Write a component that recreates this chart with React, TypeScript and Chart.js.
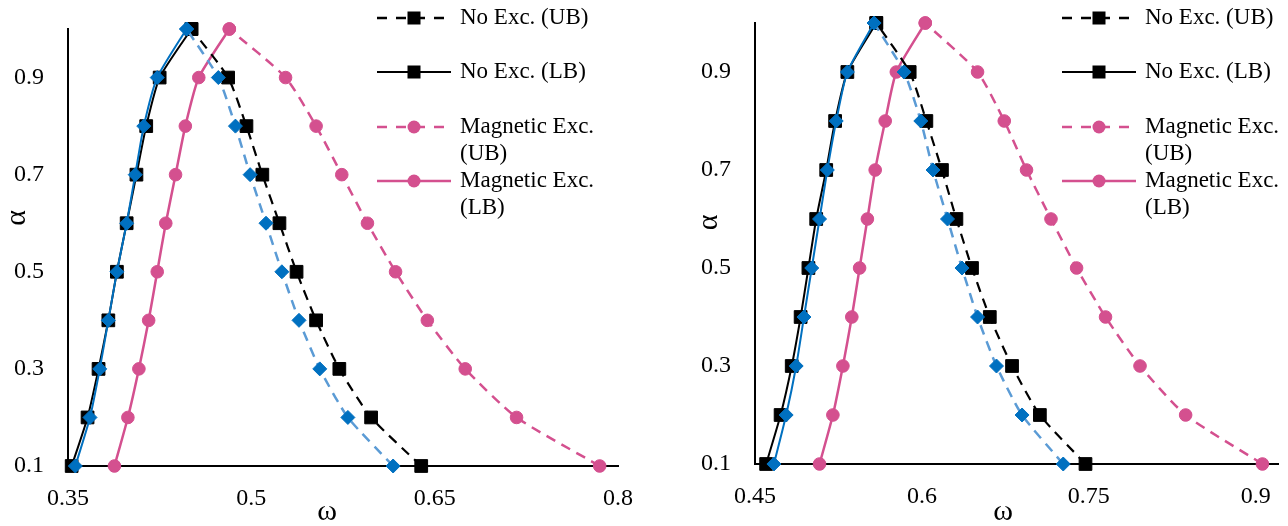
import React, { useEffect, useRef } from 'react';
import { Chart, registerables } from 'chart.js';

Chart.register(...registerables);

// ---------- data ----------
const alphaValues = [0.1, 0.2, 0.3, 0.4, 0.5, 0.6, 0.7, 0.8, 0.9, 1.0];
const yTickValues = [0.1, 0.3, 0.5, 0.7, 0.9];

const leftXTicks = [0.35, 0.5, 0.65, 0.8];
const rightXTicks = [0.45, 0.6, 0.75, 0.9];

// Left panel (omega for each alpha)
const leftNoExcUB = [0.639, 0.598, 0.572, 0.553, 0.537, 0.523, 0.509, 0.496, 0.481, 0.451];
const leftNoExcLB = [0.353, 0.366, 0.375, 0.383, 0.390, 0.398, 0.406, 0.414, 0.425, 0.451];
const leftMagUB = [0.785, 0.717, 0.675, 0.644, 0.618, 0.595, 0.574, 0.553, 0.528, 0.482];
const leftMagLB = [0.388, 0.399, 0.408, 0.416, 0.423, 0.430, 0.438, 0.446, 0.457, 0.482];
const leftBlueUB = [0.616, 0.579, 0.556, 0.539, 0.525, 0.512, 0.499, 0.487, 0.473, 0.447];
const leftBlueLB = [0.356, 0.368, 0.376, 0.383, 0.390, 0.398, 0.405, 0.412, 0.423, 0.447];

// Right panel
const rightNoExcUB = [0.747, 0.706, 0.681, 0.661, 0.645, 0.631, 0.618, 0.604, 0.589, 0.559];
const rightNoExcLB = [0.460, 0.473, 0.483, 0.491, 0.498, 0.505, 0.514, 0.522, 0.533, 0.559];
const rightMagUB = [0.906, 0.837, 0.796, 0.765, 0.739, 0.716, 0.694, 0.674, 0.650, 0.603];
const rightMagLB = [0.508, 0.520, 0.529, 0.537, 0.544, 0.551, 0.558, 0.567, 0.577, 0.603];
const rightBlueUB = [0.727, 0.690, 0.667, 0.650, 0.636, 0.623, 0.610, 0.599, 0.584, 0.557];
const rightBlueLB = [0.467, 0.478, 0.487, 0.494, 0.501, 0.508, 0.515, 0.523, 0.533, 0.557];

const legendLabels = [
  ['No Exc. (UB)'],
  ['No Exc. (LB)'],
  ['Magnetic Exc.', '(UB)'],
  ['Magnetic Exc.', '(LB)'],
];

// ---------- styles ----------
const BLACK = '#000000';
const PINK = '#D4508F';
const BLUE = '#0070C0';
const LIGHTBLUE = '#5B9BD5';
const SERIF = '"Liberation Serif", "Times New Roman", serif';
const H = 526;

type PanelCfg = {
  canvasLeft: number;
  width: number;
  plotLeft: number;
  plotRight: number;
  plotTop: number;
  plotBottom: number;
  xMin: number;
  xMax: number;
  xTicks: number[];
  noUB: number[];
  noLB: number[];
  magUB: number[];
  magLB: number[];
  blueUB: number[];
  blueLB: number[];
  legendMarkerX: number;
  xTitle: [number, number];
  yTitle: [number, number];
};

const panels: PanelCfg[] = [
  {
    canvasLeft: 0, width: 640, plotLeft: 68, plotRight: 618, plotTop: 29, plotBottom: 466,
    xMin: 0.35, xMax: 0.8, xTicks: leftXTicks,
    noUB: leftNoExcUB, noLB: leftNoExcLB, magUB: leftMagUB, magLB: leftMagLB,
    blueUB: leftBlueUB, blueLB: leftBlueLB,
    legendMarkerX: 414, xTitle: [327, 520], yTitle: [25, 218],
  },
  {
    canvasLeft: 640, width: 648, plotLeft: 115, plotRight: 645.5, plotTop: 23, plotBottom: 464,
    xMin: 0.45, xMax: 0.92, xTicks: rightXTicks,
    noUB: rightNoExcUB, noLB: rightNoExcLB, magUB: rightMagUB, magLB: rightMagLB,
    blueUB: rightBlueUB, blueLB: rightBlueLB,
    legendMarkerX: 459, xTitle: [363, 520], yTitle: [77, 222.5],
  },
];

const legendStyles = [
  { color: BLACK, width: 2.5, dash: true, marker: 'square' },
  { color: BLACK, width: 2, dash: false, marker: 'square' },
  { color: PINK, width: 2.5, dash: true, marker: 'circle' },
  { color: PINK, width: 2.5, dash: false, marker: 'circle' },
];
const legendRowY = [18, 72, 127, 181];

function toPoints(omegas: number[]) {
  return omegas.map((w, i) => ({ x: w, y: alphaValues[i] }));
}

function series(omegas: number[], line: string, marker: string, width: number, dashed: boolean, style: string, radius: number) {
  return {
    data: toPoints(omegas),
    showLine: true,
    borderColor: line,
    borderWidth: width,
    borderDash: dashed ? [10, 7] : [],
    tension: 0.2,
    pointStyle: style,
    pointRadius: radius,
    pointBackgroundColor: marker,
    pointBorderColor: marker,
    pointBorderWidth: 1,
    clip: false as any,
  };
}

function Panel({ cfg }: { cfg: PanelCfg }) {
  const ref = useRef<HTMLCanvasElement | null>(null);
  useEffect(() => {
    const canvas = ref.current;
    if (!canvas) return;

    const overlay = {
      id: 'overlay',
      afterDraw(chart: any) {
        const ctx: CanvasRenderingContext2D = chart.ctx;
        ctx.save();
        // legend
        legendStyles.forEach((s, i) => {
          const y = legendRowY[i];
          const mx = cfg.legendMarkerX;
          ctx.strokeStyle = s.color;
          ctx.lineWidth = s.width;
          ctx.setLineDash(s.dash ? [10, 9] : []);
          ctx.beginPath();
          ctx.moveTo(mx - 37, y);
          ctx.lineTo(mx + 37, y);
          ctx.stroke();
          ctx.setLineDash([]);
          ctx.fillStyle = s.color;
          if (s.marker === 'square') {
            ctx.fillRect(mx - 6.5, y - 6.5, 13, 13);
          } else {
            ctx.beginPath();
            ctx.arc(mx, y, 6.5, 0, Math.PI * 2);
            ctx.fill();
          }
          ctx.fillStyle = '#000';
          ctx.font = `23px ${SERIF}`;
          ctx.textAlign = 'left';
          ctx.textBaseline = 'middle';
          legendLabels[i].forEach((t, j) => ctx.fillText(t, mx + 46, y + j * 27));
        });
        // axis titles
        ctx.fillStyle = '#000';
        ctx.font = `30px ${SERIF}`;
        ctx.textAlign = 'center';
        ctx.textBaseline = 'alphabetic';
        ctx.fillText('ω', cfg.xTitle[0], cfg.xTitle[1]);
        ctx.translate(cfg.yTitle[0], cfg.yTitle[1]);
        ctx.rotate(-Math.PI / 2);
        ctx.fillText('α', 0, 0);
        ctx.restore();
      },
    };

    const tickFont = { family: SERIF, size: 24 };

    const chart = new Chart(canvas, {
      type: 'scatter',
      data: {
        datasets: [
          series(cfg.blueLB, BLUE, BLUE, 2, false, 'rectRot', 7),
          series(cfg.blueUB, LIGHTBLUE, BLUE, 2.5, true, 'rectRot', 7),
          series(cfg.noLB, BLACK, BLACK, 2, false, 'rect', 9),
          series(cfg.noUB, BLACK, BLACK, 2.2, true, 'rect', 9),
          series(cfg.magLB, PINK, PINK, 2.5, false, 'circle', 6.3),
          series(cfg.magUB, PINK, PINK, 2.5, true, 'circle', 6.3),
        ] as any,
      },
      options: {
        responsive: false,
        animation: false,
        events: [],
        layout: { padding: { left: 0, top: cfg.plotTop, right: cfg.width - cfg.plotRight, bottom: 0 } },
        plugins: { legend: { display: false }, tooltip: { enabled: false }, title: { display: false } },
        scales: {
          x: {
            type: 'linear',
            position: 'bottom',
            min: cfg.xMin,
            max: cfg.xMax,
            grid: { display: false, drawTicks: false },
            border: { display: true, color: '#000', width: 2 },
            ticks: {
              font: tickFont,
              color: '#000',
              padding: 18,
              autoSkip: false,
              maxRotation: 0,
              callback: (v: any) => String(Number(Number(v).toFixed(2))),
            },
            afterBuildTicks: (s: any) => {
              s.ticks = cfg.xTicks.map((value) => ({ value }));
            },
            afterFit: (s: any) => {
              s.height = H - cfg.plotBottom;
              s.paddingLeft = 0;
              s.paddingRight = 0;
            },
          },
          y: {
            type: 'linear',
            position: 'left',
            min: 0.1,
            max: 1.0,
            grid: { display: false, drawTicks: false },
            border: { display: true, color: '#000', width: 2 },
            ticks: {
              font: tickFont,
              color: '#000',
              padding: 24,
              autoSkip: false,
              callback: (v: any) => Number(v).toFixed(1),
            },
            afterBuildTicks: (s: any) => {
              s.ticks = yTickValues.map((value) => ({ value }));
            },
            afterFit: (s: any) => {
              s.width = cfg.plotLeft;
              s.paddingTop = 0;
              s.paddingBottom = 0;
            },
          },
        },
      } as any,
      plugins: [overlay],
    });
    return () => chart.destroy();
  }, [cfg]);

  return (
    <canvas
      ref={ref}
      width={cfg.width}
      height={H}
      style={{ position: 'absolute', left: cfg.canvasLeft, top: 0, width: cfg.width, height: H }}
    />
  );
}

export default function App() {
  return (
    <div style={{ position: 'fixed', left: 0, top: 0, width: 1288, height: H, background: '#fff', overflow: 'hidden' }}>
      {panels.map((p, i) => (
        <Panel key={i} cfg={p} />
      ))}
    </div>
  );
}
